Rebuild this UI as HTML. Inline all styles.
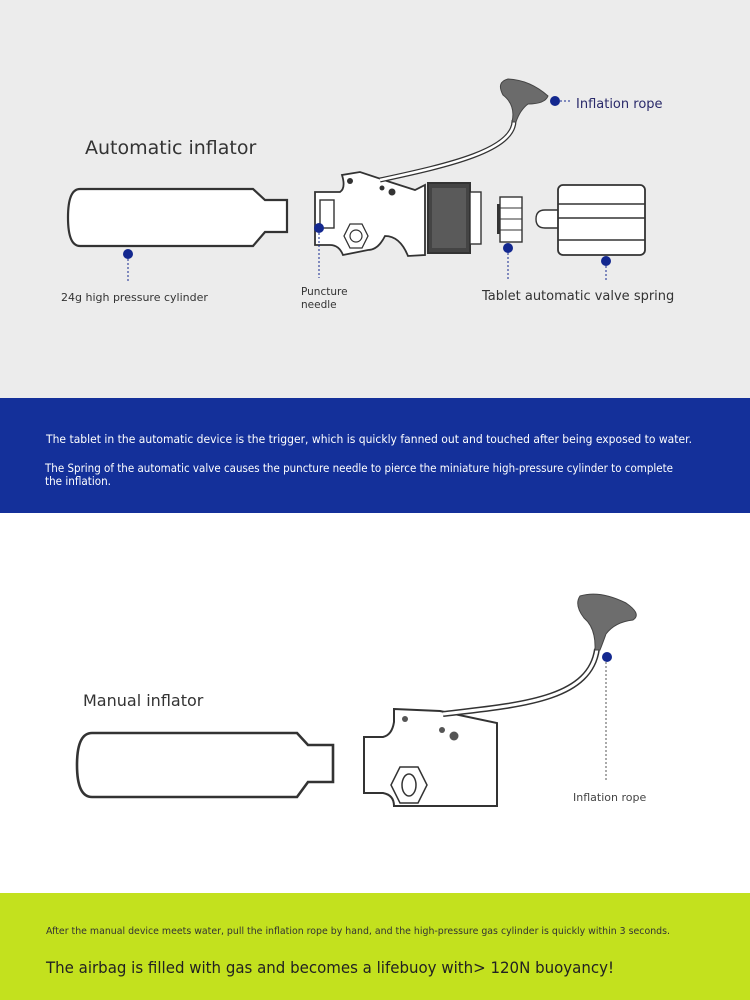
<!DOCTYPE html>
<html><head><meta charset="utf-8"><style>
html,body{margin:0;padding:0;width:750px;height:1000px;overflow:hidden}
svg{display:block}
text{font-family:"DejaVu Sans","Liberation Sans",sans-serif}
</style></head><body>
<svg width="750" height="1000" viewBox="0 0 750 1000" xmlns="http://www.w3.org/2000/svg">
<rect x="0" y="0" width="750" height="398" fill="#ececec"/>
<rect x="0" y="398" width="750" height="115" fill="#14309a"/>
<rect x="0" y="513" width="750" height="380" fill="#ffffff"/>
<rect x="0" y="893" width="750" height="107" fill="#c3e11e"/>

<text x="85" y="154" font-size="19" fill="#333">Automatic inflator</text>
<path d="M80,189 L253,189 L265,200 L287,200 L287,232 L265,232 L253,246 L80,246 Q68,246 68,217.5 Q68,189 80,189 Z" fill="#fff" stroke="#333" stroke-width="2.2"/>
<circle cx="128" cy="254" r="5" fill="#13288f"/>
<line x1="128" y1="259" x2="128" y2="282" stroke="#13288f" stroke-dasharray="2,2"/>
<text x="61" y="301" font-size="11" fill="#333">24g high pressure cylinder</text>

<path d="M315,192 L340,192 Q346,188 342,175 L360,172 L390,182 L415,190 L425,185 L425,255 L408,256 Q400,236 385,236 Q378,250 368,250 L343,255 Q339,245 330,245 L315,245 Z" fill="#fff" stroke="#333" stroke-width="1.8"/>
<rect x="320" y="200" width="14" height="28" fill="#fff" stroke="#333" stroke-width="1.4"/>
<polygon points="350,224 362,224 368,236 362,248 350,248 344,236" fill="#fff" stroke="#333" stroke-width="1.3"/>
<circle cx="356" cy="236" r="6" fill="none" stroke="#333" stroke-width="1.2"/>
<circle cx="350" cy="181" r="3" fill="#333"/>
<circle cx="382" cy="188" r="2.5" fill="#333"/>
<circle cx="392" cy="192" r="3.5" fill="#333"/>
<rect x="428" y="183" width="42" height="70" fill="#444" stroke="#333" stroke-width="2"/>
<rect x="432" y="188" width="34" height="60" fill="#5a5a5a"/>
<rect x="470" y="192" width="11" height="52" fill="#fff" stroke="#333" stroke-width="1.4"/>
<rect x="500" y="197" width="22" height="45" fill="#fff" stroke="#333" stroke-width="1.4"/>
<line x1="500" y1="208" x2="522" y2="208" stroke="#333" stroke-width="1"/>
<line x1="500" y1="219" x2="522" y2="219" stroke="#333" stroke-width="1"/>
<line x1="500" y1="230" x2="522" y2="230" stroke="#333" stroke-width="1"/>
<rect x="497" y="204" width="3" height="30" fill="#333"/>
<path d="M558,210 L545,210 Q536,210 536,219 Q536,228 545,228 L558,228" fill="#fff" stroke="#333" stroke-width="1.4"/>
<rect x="558" y="185" width="87" height="70" rx="5" fill="#fff" stroke="#333" stroke-width="1.8"/>
<line x1="558" y1="204" x2="645" y2="204" stroke="#333" stroke-width="1.4"/>
<line x1="558" y1="218" x2="645" y2="218" stroke="#333" stroke-width="1.4"/>
<line x1="558" y1="240" x2="645" y2="240" stroke="#333" stroke-width="1.4"/>
<path d="M380,180 C450,165 515,150 514,120" fill="none" stroke="#333" stroke-width="5"/>
<path d="M380,180 C450,165 515,150 514,120" fill="none" stroke="#fff" stroke-width="2.5"/>
<path d="M512,122 Q516,105 503,95 Q496,82 508,79 Q530,80 548,96 Q545,104 528,104 Q520,110 516,122 Z" fill="#6b6b6b" stroke="#444" stroke-width="1"/>
<circle cx="555" cy="101" r="5" fill="#13288f"/>
<line x1="560" y1="101" x2="572" y2="101" stroke="#13288f" stroke-dasharray="2,2"/>
<text x="576" y="108" font-size="13" fill="#2a2a6a">Inflation rope</text>
<circle cx="319" cy="228" r="5" fill="#13288f"/>
<line x1="319" y1="233" x2="319" y2="278" stroke="#13288f" stroke-dasharray="2,2"/>
<text x="301" y="295" font-size="10.5" fill="#333">Puncture</text>
<text x="301" y="308" font-size="10.5" fill="#333">needle</text>
<circle cx="508" cy="248" r="5" fill="#13288f"/>
<line x1="508" y1="253" x2="508" y2="281" stroke="#13288f" stroke-dasharray="2,2"/>
<circle cx="606" cy="261" r="5" fill="#13288f"/>
<line x1="606" y1="266" x2="606" y2="282" stroke="#13288f" stroke-dasharray="2,2"/>
<text x="482" y="300" font-size="13" fill="#333">Tablet automatic valve spring</text>

<text x="46" y="443" font-size="11.5" fill="#fff" textLength="646" lengthAdjust="spacingAndGlyphs">The tablet in the automatic device is the trigger, which is quickly fanned out and touched after being exposed to water.</text>
<text x="45" y="472" font-size="11.5" fill="#fff" textLength="628" lengthAdjust="spacingAndGlyphs">The Spring of the automatic valve causes the puncture needle to pierce the miniature high-pressure cylinder to complete</text>
<text x="45" y="485" font-size="11.5" fill="#fff" textLength="66" lengthAdjust="spacingAndGlyphs">the inflation.</text>

<text x="83" y="706" font-size="16" fill="#333">Manual inflator</text>
<path d="M92,733 L297,733 L308,745 L333,745 L333,782 L308,782 L297,797 L92,797 Q77,797 77,765 Q77,733 92,733 Z" fill="#fff" stroke="#333" stroke-width="2.6"/>
<path d="M394,709 L440,711 L497,723 L497,806 L394,806 Q394,795 383,793 L364,793 L364,737 L383,737 Q392,735 394,722 Z" fill="#fff" stroke="#333" stroke-width="2"/>
<polygon points="400,767 418,767 427,785 418,803 400,803 391,785" fill="#fff" stroke="#333" stroke-width="1.5"/>
<ellipse cx="409" cy="785" rx="7" ry="11" fill="none" stroke="#333" stroke-width="1.5"/>
<circle cx="405" cy="719" r="3" fill="#555"/>
<circle cx="442" cy="730" r="3" fill="#555"/>
<circle cx="454" cy="736" r="4.5" fill="#555"/>
<path d="M443,714 C520,705 590,700 597,649" fill="none" stroke="#333" stroke-width="6"/>
<path d="M443,714 C520,705 590,700 597,649" fill="none" stroke="#fff" stroke-width="3"/>
<path d="M595,650 Q596,628 584,618 Q574,605 580,596 Q600,590 626,603 Q642,614 633,620 Q615,622 606,634 Q602,645 600,650 Z" fill="#6d6d6d" stroke="#444" stroke-width="1"/>
<circle cx="607" cy="657" r="5" fill="#13288f"/>
<line x1="606" y1="662" x2="606" y2="780" stroke="#555" stroke-dasharray="2,2"/>
<text x="573" y="801" font-size="11" fill="#444">Inflation rope</text>

<text x="46" y="934" font-size="10" fill="#333" textLength="624" lengthAdjust="spacingAndGlyphs">After the manual device meets water, pull the inflation rope by hand, and the high-pressure gas cylinder is quickly within 3 seconds.</text>
<text x="46" y="973" font-size="16" fill="#222" textLength="568" lengthAdjust="spacingAndGlyphs">The airbag is filled with gas and becomes a lifebuoy with&gt; 120N buoyancy!</text>
</svg>
</body></html>
